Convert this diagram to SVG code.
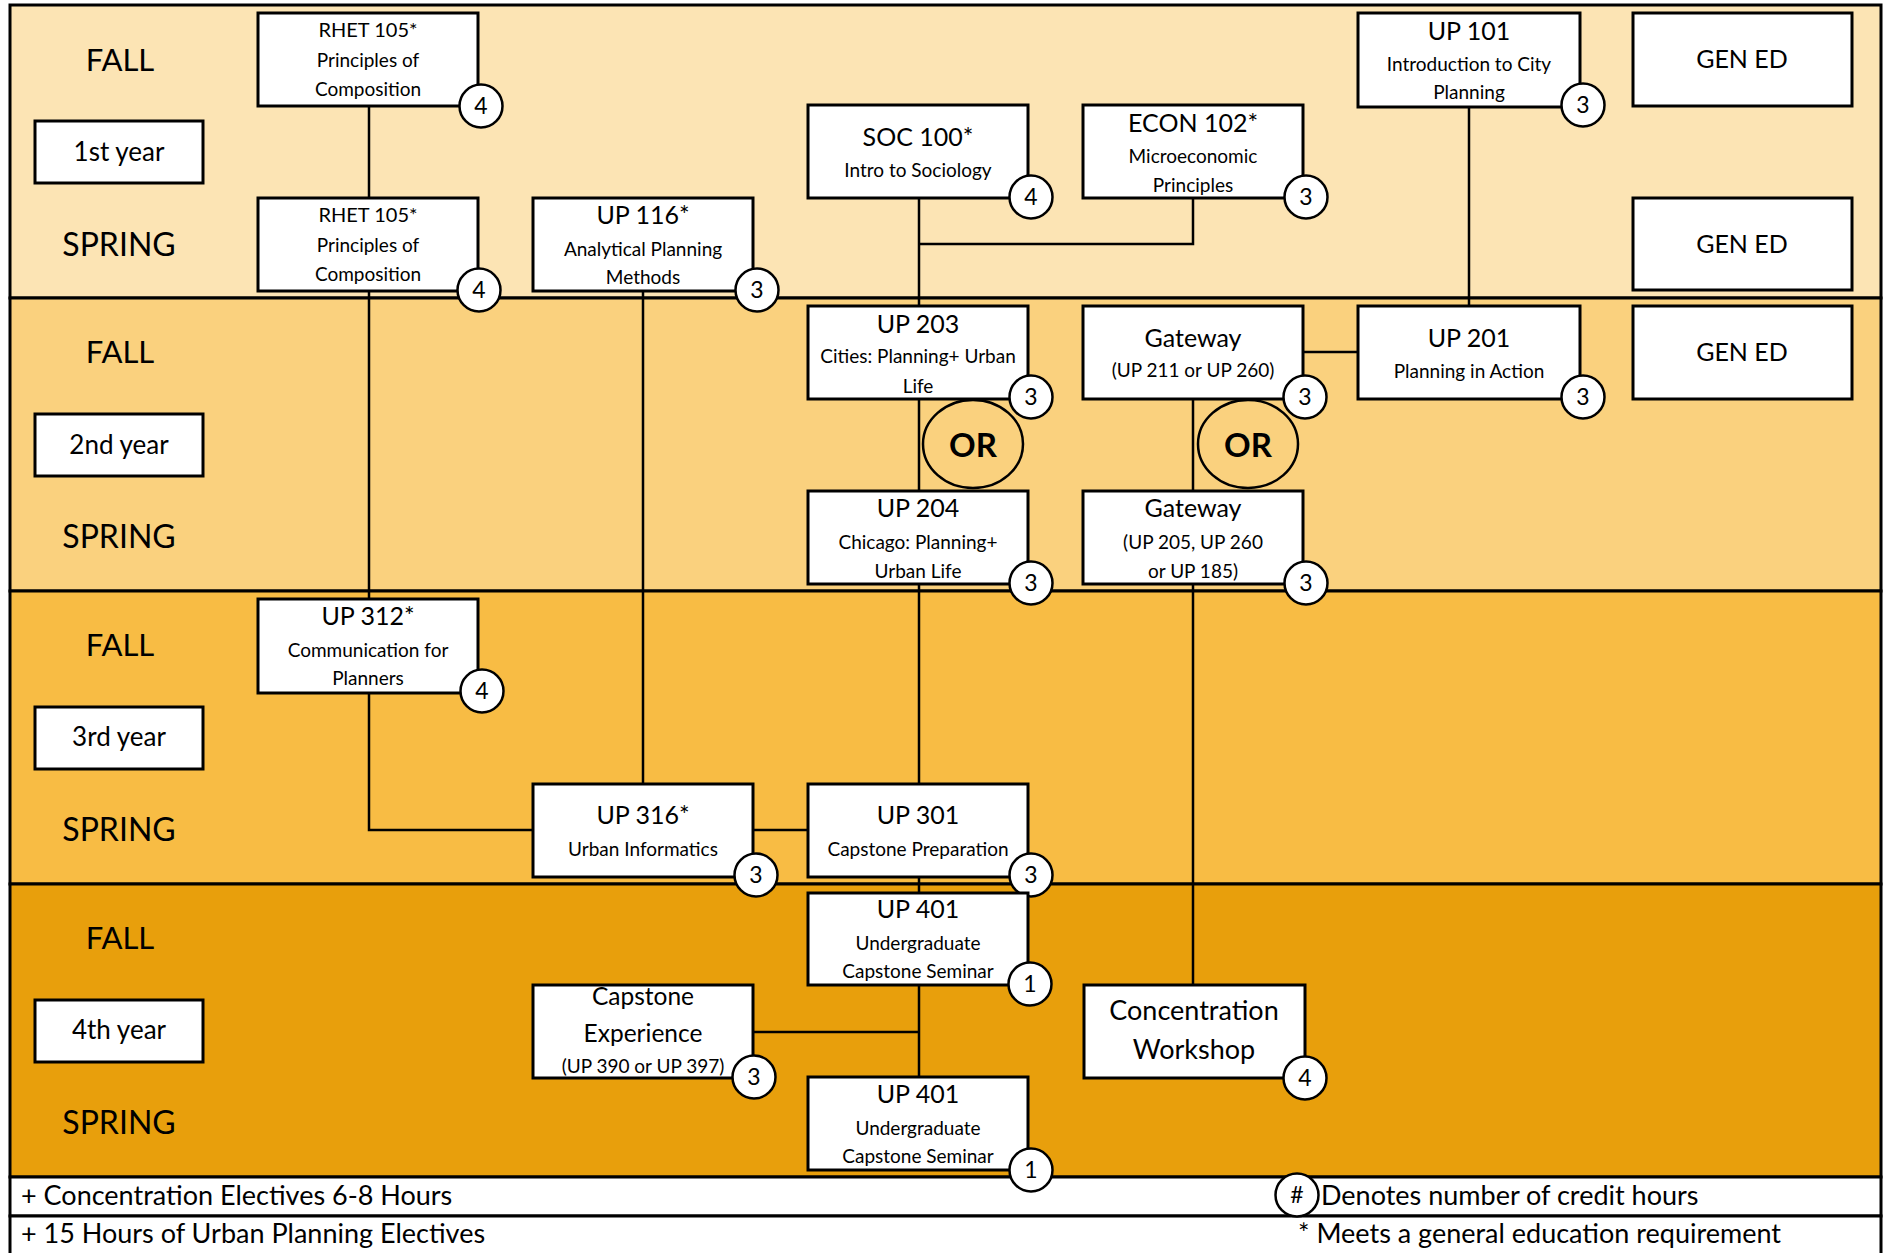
<svg xmlns="http://www.w3.org/2000/svg" width="1885" height="1253" viewBox="0 0 1885 1253">
<style>
text{font-family:Lato,"Liberation Sans",sans-serif;fill:#000;text-anchor:middle}
.box{fill:#fff;stroke:#000;stroke-width:3}
.cr{fill:#fff;stroke:#000;stroke-width:2.5}
.or{fill:none;stroke:#000;stroke-width:2.5}
.ln{fill:none;stroke:#000;stroke-width:2.5}
.band{stroke:#000;stroke-width:3}
.t{font-size:25px}
.s{font-size:19px}
.r{font-size:20px}
.m{font-size:24.5px}
.cw{font-size:27px}
.sem{font-size:31px}
.yr{font-size:26px}
.num{font-size:23px}
.ort{font-size:33px;font-weight:bold}
.ft{font-size:27px;text-anchor:start}
</style>
<rect x="0" y="0" width="1885" height="1253" fill="#fff"/>
<g id="bands">
<rect class="band" x="10" y="5" width="1871" height="293" fill="#FCE4B4"/>
<rect class="band" x="10" y="298" width="1871" height="293" fill="#FAD17E"/>
<rect class="band" x="10" y="591" width="1871" height="293" fill="#F8BC44"/>
<rect class="band" x="10" y="884" width="1871" height="293" fill="#E89F0C"/>
<rect class="band" x="10" y="1177" width="1871" height="39" fill="#fff"/>
<rect class="band" x="10" y="1216" width="1871" height="40" fill="#fff"/>
</g>
<g id="semester-labels">
<text class="sem" x="120" y="71">FALL</text>
<text class="sem" x="119" y="256" style="font-size:32px">SPRING</text>
<text class="sem" x="120" y="363">FALL</text>
<text class="sem" x="119" y="548" style="font-size:32px">SPRING</text>
<text class="sem" x="120" y="656">FALL</text>
<text class="sem" x="119" y="841" style="font-size:32px">SPRING</text>
<text class="sem" x="120" y="949">FALL</text>
<text class="sem" x="119" y="1134" style="font-size:32px">SPRING</text>
</g>
<g id="year1"><rect class="box" x="35" y="121" width="168" height="62"/><text class="yr" x="119" y="161">1st year</text></g>
<g id="year2"><rect class="box" x="35" y="414" width="168" height="62"/><text class="yr" x="119" y="454">2nd year</text></g>
<g id="year3"><rect class="box" x="35" y="707" width="168" height="62"/><text class="yr" x="119" y="746">3rd year</text></g>
<g id="year4"><rect class="box" x="35" y="1000" width="168" height="62"/><text class="yr" x="119" y="1039">4th year</text></g>
<g id="connectors">
<path class="ln" d="M369 106V599"/>
<path class="ln" d="M369 693V830H533"/>
<path class="ln" d="M643 291V784"/>
<path class="ln" d="M753 830H808"/>
<path class="ln" d="M919 198V1077"/>
<path class="ln" d="M1193 198V244H919"/>
<path class="ln" d="M753 1032H919"/>
<path class="ln" d="M1469 107V306"/>
<path class="ln" d="M1303 352H1358"/>
<path class="ln" d="M1193 399V985"/>
</g>
<g id="rhet105-fall"><rect class="box" x="258" y="13" width="220" height="93"/>
<text class="r" x="368" y="37">RHET 105*</text><text class="s" x="368" y="67">Principles of</text><text class="s" x="368" y="96">Composition</text>
<circle class="cr" cx="481" cy="106" r="21.5"/><text class="num" x="481" y="114">4</text></g>
<g id="rhet105-spring"><rect class="box" x="258" y="198" width="220" height="93"/>
<text class="r" x="368" y="222">RHET 105*</text><text class="s" x="368" y="252">Principles of</text><text class="s" x="368" y="281">Composition</text>
<circle class="cr" cx="479" cy="290" r="21.5"/><text class="num" x="479" y="298">4</text></g>
<g id="up116"><rect class="box" x="533" y="198" width="220" height="93"/>
<text class="t" x="643" y="224">UP 116*</text><text class="s" x="643" y="256">Analytical Planning</text><text class="s" x="643" y="284">Methods</text>
<circle class="cr" cx="757" cy="290" r="21.5"/><text class="num" x="757" y="298">3</text></g>
<g id="soc100"><rect class="box" x="808" y="105" width="220" height="93"/>
<text class="t" x="918" y="146">SOC 100*</text><text class="s" x="918" y="177">Intro to Sociology</text>
<circle class="cr" cx="1031" cy="197" r="21.5"/><text class="num" x="1031" y="205">4</text></g>
<g id="econ102"><rect class="box" x="1083" y="105" width="220" height="93"/>
<text class="t" x="1193" y="132">ECON 102*</text><text class="s" x="1193" y="163">Microeconomic</text><text class="s" x="1193" y="192">Principles</text>
<circle class="cr" cx="1306" cy="197" r="21.5"/><text class="num" x="1306" y="205">3</text></g>
<g id="up101"><rect class="box" x="1358" y="13" width="222" height="94"/>
<text class="t" x="1469" y="40">UP 101</text><text class="s" x="1469" y="71">Introduction to City</text><text class="s" x="1469" y="99">Planning</text>
<circle class="cr" cx="1583" cy="105" r="21.5"/><text class="num" x="1583" y="113">3</text></g>
<g id="gened1"><rect class="box" x="1633" y="13" width="219" height="93"/><text class="t" x="1742" y="68">GEN ED</text></g>
<g id="gened2"><rect class="box" x="1633" y="198" width="219" height="92"/><text class="t" x="1742" y="253">GEN ED</text></g>
<g id="gened3"><rect class="box" x="1633" y="306" width="219" height="93"/><text class="t" x="1742" y="361">GEN ED</text></g>
<g id="up203"><rect class="box" x="808" y="306" width="220" height="93"/>
<text class="t" x="918" y="333">UP 203</text><text class="s" x="918" y="363">Cities: Planning+ Urban</text><text class="s" x="918" y="393">Life</text>
<circle class="cr" cx="1031" cy="397" r="21.5"/><text class="num" x="1031" y="405">3</text></g>
<g id="or1"><ellipse class="or" cx="973" cy="444" rx="50" ry="44"/><text class="ort" x="973" y="457">OR</text></g>
<g id="gateway1"><rect class="box" x="1083" y="306" width="220" height="93"/>
<text class="t" x="1193" y="347">Gateway</text><text class="s" x="1193" y="377">(UP 211 or UP 260)</text>
<circle class="cr" cx="1305" cy="397" r="21.5"/><text class="num" x="1305" y="405">3</text></g>
<g id="or2"><ellipse class="or" cx="1248" cy="444" rx="50" ry="44"/><text class="ort" x="1248" y="457">OR</text></g>
<g id="up201"><rect class="box" x="1358" y="306" width="222" height="93"/>
<text class="t" x="1469" y="347">UP 201</text><text class="s" x="1469" y="378">Planning in Action</text>
<circle class="cr" cx="1583" cy="397" r="21.5"/><text class="num" x="1583" y="405">3</text></g>
<g id="up204"><rect class="box" x="808" y="491" width="220" height="93"/>
<text class="t" x="918" y="517">UP 204</text><text class="s" x="918" y="549">Chicago: Planning+</text><text class="s" x="918" y="578">Urban Life</text>
<circle class="cr" cx="1031" cy="583" r="21.5"/><text class="num" x="1031" y="591">3</text></g>
<g id="gateway2"><rect class="box" x="1083" y="491" width="220" height="93"/>
<text class="t" x="1193" y="517">Gateway</text><text class="s" x="1193" y="549">(UP 205, UP 260</text><text class="s" x="1193" y="578">or UP 185)</text>
<circle class="cr" cx="1306" cy="583" r="21.5"/><text class="num" x="1306" y="591">3</text></g>
<g id="up312"><rect class="box" x="258" y="599" width="220" height="94"/>
<text class="t" x="368" y="625">UP 312*</text><text class="s" x="368" y="657">Communication for</text><text class="s" x="368" y="685">Planners</text>
<circle class="cr" cx="482" cy="691" r="21.5"/><text class="num" x="482" y="699">4</text></g>
<g id="up316"><rect class="box" x="533" y="784" width="220" height="93"/>
<text class="t" x="643" y="824">UP 316*</text><text class="s" x="643" y="856">Urban Informatics</text>
<circle class="cr" cx="756" cy="875" r="21.5"/><text class="num" x="756" y="883">3</text></g>
<g id="up301"><rect class="box" x="808" y="784" width="220" height="93"/>
<text class="t" x="918" y="824">UP 301</text><text class="s" x="918" y="856">Capstone Preparation</text>
<circle class="cr" cx="1031" cy="875" r="21.5"/><text class="num" x="1031" y="883">3</text></g>
<g id="up401-fall"><rect class="box" x="808" y="893" width="220" height="92"/>
<text class="t" x="918" y="918">UP 401</text><text class="s" x="918" y="950">Undergraduate</text><text class="s" x="918" y="978">Capstone Seminar</text>
<circle class="cr" cx="1030" cy="984" r="21.5"/><text class="num" x="1030" y="992">1</text></g>
<g id="capstone-experience"><rect class="box" x="533" y="985" width="220" height="93"/>
<text class="m" x="643" y="1005">Capstone</text><text class="m" x="643" y="1042">Experience</text><text class="s" x="643" y="1073">(UP 390 or UP 397)</text>
<circle class="cr" cx="754" cy="1077" r="21.5"/><text class="num" x="754" y="1085">3</text></g>
<g id="up401-spring"><rect class="box" x="808" y="1077" width="220" height="93"/>
<text class="t" x="918" y="1103">UP 401</text><text class="s" x="918" y="1135">Undergraduate</text><text class="s" x="918" y="1163">Capstone Seminar</text>
<circle class="cr" cx="1031" cy="1170" r="21.5"/><text class="num" x="1031" y="1178">1</text></g>
<g id="concentration-workshop"><rect class="box" x="1084" y="985" width="221" height="93"/>
<text class="cw" x="1194" y="1020">Concentration</text><text class="cw" x="1194" y="1059">Workshop</text>
<circle class="cr" cx="1305" cy="1078" r="21.5"/><text class="num" x="1305" y="1086">4</text></g>
<g id="footer">
<text class="ft" x="21" y="1205">+ Concentration Electives 6-8 Hours</text>
<text class="ft" x="21" y="1243">+ 15 Hours of Urban Planning Electives</text>
<circle class="cr" cx="1297" cy="1195" r="21.5"/><text class="num" x="1297" y="1203">#</text>
<text class="ft" x="1321" y="1205">Denotes number of credit hours</text>
<text class="ft" x="1298" y="1243">* Meets a general education requirement</text>
</g>
</svg>
